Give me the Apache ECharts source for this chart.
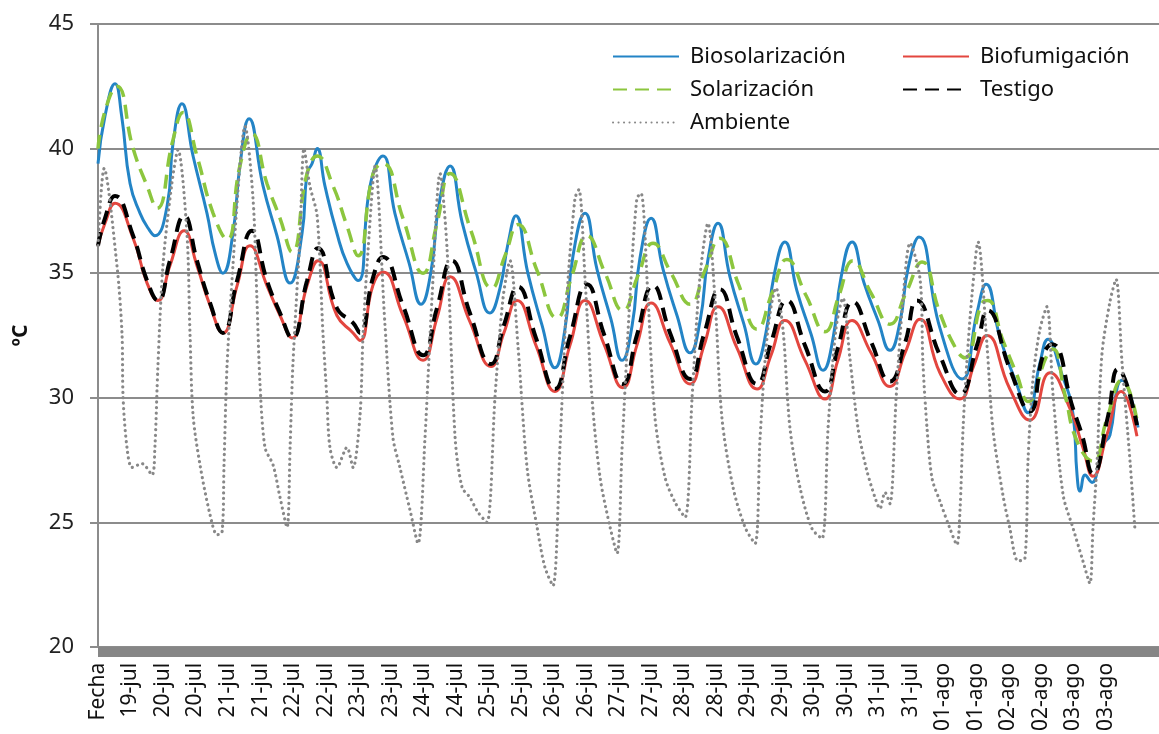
<!DOCTYPE html>
<html>
<head>
<meta charset="utf-8">
<script src="https://cdn.jsdelivr.net/npm/echarts@6.0.0/dist/echarts.min.js"></script>
<style>
  html, body { margin: 0; padding: 0; background: #fff; }
  #chart { width: 1159px; height: 734px; }
</style>
</head>
<body>
<div id="chart"></div>
<script>
// etiquetas del eje X (una cada ~11.7 h)
const xLabels = ['Fecha', '19-jul', '20-jul', '20-jul', '21-jul', '21-jul', '22-jul', '22-jul',
  '23-jul', '23-jul', '24-jul', '24-jul', '25-jul', '25-jul', '26-jul', '26-jul', '27-jul', '27-jul',
  '28-jul', '28-jul', '29-jul', '29-jul', '30-jul', '30-jul', '31-jul', '31-jul',
  '01-ago', '01-ago', '02-ago', '02-ago', '03-ago', '03-ago']
const labelStepH = 11.66
const xMaxH = 380.6

// [horas desde el inicio, ºC]
const biosolarizacion = [
  [0, 39.4], [2.5, 41.3], [6.1, 42.6], [8.5, 41.3], [11.5, 38.6], [15.1, 37.4], [18.0, 36.8], [20.4, 36.5],
  [24.8, 37.7], [26.9, 40.2], [30.1, 41.8], [34.1, 39.7], [39.1, 37.4], [42.0, 35.8], [44.8, 35.0],
  [48.4, 36.6], [50.9, 39.3], [54.2, 41.2], [59.2, 38.5], [64.2, 36.5], [68.9, 34.6], [73.2, 36.6],
  [75.0, 39.0], [76.8, 39.4], [78.6, 40.0], [81.4, 38.5], [85.7, 36.6], [89.3, 35.4], [93.3, 34.7],
  [97.6, 38.5], [102.2, 39.7], [106.5, 37.4], [111.6, 35.4], [115.9, 33.75], [119.5, 35.1], [122.3, 37.75],
  [126.3, 39.3], [130.6, 37.05], [135.6, 35.05], [140.6, 33.4], [144.2, 34.4], [147.1, 36.2], [149.9, 37.3],
  [154.2, 35.0], [159.3, 32.9], [163.9, 31.2], [167.5, 32.75], [170.4, 35.7], [174.7, 37.4],
  [179.0, 35.15], [184.0, 33.15], [188.0, 31.5], [191.6, 32.9], [194.4, 35.6], [198.4, 37.2],
  [202.7, 35.15], [207.7, 33.3], [212.4, 31.8], [216.0, 33.1], [218.8, 35.55], [222.4, 37.0],
  [226.7, 34.85], [231.7, 32.95], [236.0, 31.35], [239.6, 32.6], [242.5, 34.9], [246.4, 36.25],
  [250.7, 34.3], [255.8, 32.55], [260.1, 31.1], [263.7, 32.4], [266.5, 34.8], [270.5, 36.25],
  [274.8, 34.6], [279.8, 33.1], [284.1, 31.9], [287.7, 33.05], [290.6, 35.2], [294.5, 36.45],
  [302.0, 32.8], [310.0, 30.75], [315.3, 33.4], [318.6, 34.55], [323.6, 32.4], [329.7, 30.5],
  [333.6, 29.4], [337.9, 31.4], [340.8, 32.35], [345.1, 31.15], [349.8, 29.3], [351.2, 26.9],
  [352.3, 26.25], [354.1, 26.9], [356.6, 26.6], [358.4, 27.0], [360.5, 28.1], [363.0, 28.5],
  [365.6, 30.4], [367.4, 30.7], [369.5, 30.4], [373.1, 28.8]
]
const biofumigacion = [
  [0, 36.1], [2.5, 37.0], [6.1, 37.8], [12.6, 36.4], [17.6, 34.6], [21.5, 33.9], [25.8, 35.3], [30.9, 36.7],
  [35.5, 35.3], [40.2, 33.7], [44.8, 32.6], [49.9, 34.5], [54.5, 36.1], [60.6, 34.5], [65.3, 33.3],
  [69.6, 32.4], [75.0, 34.5], [78.9, 35.5], [85.7, 33.3], [91.5, 32.6], [94.0, 32.3], [98.6, 34.5],
  [102.2, 35.05], [109.4, 33.3], [116.6, 31.5], [121.6, 33.2], [126.3, 34.85], [133.4, 33.05],
  [141.0, 31.25], [145.6, 32.6], [150.3, 33.9], [157.1, 32.1], [163.9, 30.25], [169.3, 32.1],
  [174.7, 33.9], [181.5, 32.15], [188.3, 30.4], [193.3, 32.1], [198.4, 33.8], [205.2, 32.2],
  [212.4, 30.55], [217.4, 32.1], [222.4, 33.65], [229.2, 32.0], [236.4, 30.35], [241.4, 31.7],
  [246.4, 33.1], [253.6, 31.5], [260.8, 29.95], [265.4, 31.5], [270.5, 33.1], [277.3, 31.8],
  [284.1, 30.45], [289.5, 31.8], [294.9, 33.15], [302.0, 31.0], [309.2, 29.95], [314.2, 31.3],
  [318.9, 32.5], [327.1, 30.35], [334.3, 29.1], [341.5, 31.0], [348.7, 29.55], [353.3, 28.0],
  [356.9, 26.85], [361.9, 28.5], [367.0, 30.25], [372.7, 28.45]
]
const solarizacion = [
  [0, 40.0], [2.5, 41.5], [6.8, 42.5], [12.6, 40.0], [17.6, 38.5], [21.2, 37.6], [26.9, 40.35],
  [30.5, 41.45], [35.5, 39.7], [41.3, 37.4], [46.3, 36.35], [50.9, 39.3], [55.2, 40.6], [60.6, 38.6],
  [65.3, 37.2], [69.6, 35.85], [75.0, 39.0], [78.6, 39.7], [84.3, 38.5], [89.3, 36.9], [93.3, 35.7],
  [98.7, 39.0], [102.2, 39.4], [109.4, 37.2], [116.6, 35.0], [121.6, 37.0], [126.3, 39.0],
  [133.8, 36.7], [141.3, 34.4], [146.0, 35.7], [150.7, 36.95], [157.5, 35.1], [164.6, 33.2],
  [170.0, 34.9], [175.4, 36.5], [181.9, 35.0], [188.3, 33.5], [193.7, 34.9], [199.1, 36.2],
  [205.6, 35.0], [212.4, 33.75], [217.7, 35.1], [223.1, 36.4], [229.6, 34.6], [236.4, 32.75],
  [241.8, 34.2], [247.1, 35.55], [254.0, 34.1], [260.8, 32.65], [265.8, 34.1], [270.8, 35.5],
  [277.3, 34.2], [284.1, 32.95], [289.8, 34.2], [295.6, 35.45], [302.0, 33.4], [308.1, 31.9],
  [311.0, 31.6], [317.5, 33.85], [319.2, 33.9], [324.6, 32.3], [329.7, 30.9], [333.6, 29.85],
  [340.4, 31.7], [342.6, 31.95], [346.9, 30.1], [351.2, 28.25], [356.9, 27.45], [361.9, 29.15],
  [367.3, 30.7], [372.7, 29.1]
]
const testigo = [
  [0, 36.1], [2.5, 37.2], [6.1, 38.1], [12.6, 36.5], [17.6, 34.7], [21.5, 33.9], [25.8, 35.5],
  [30.9, 37.3], [35.5, 35.5], [40.2, 33.8], [44.8, 32.6], [49.9, 34.7], [55.2, 36.7], [60.6, 34.7],
  [65.3, 33.4], [69.6, 32.4], [75.0, 34.7], [78.9, 36.0], [85.7, 33.6], [91.5, 33.0], [94.0, 32.6],
  [98.6, 34.8], [102.2, 35.65], [109.4, 33.7], [116.6, 31.7], [121.6, 33.6], [127.0, 35.5],
  [133.4, 33.4], [141.0, 31.35], [145.6, 32.9], [150.7, 34.45], [157.1, 32.4], [163.9, 30.35],
  [169.3, 32.45], [175.4, 34.55], [181.5, 32.55], [188.3, 30.55], [193.3, 32.5], [199.1, 34.5],
  [205.2, 32.6], [212.4, 30.75], [217.4, 32.55], [223.1, 34.35], [229.2, 32.45], [236.4, 30.55],
  [241.4, 32.2], [247.1, 33.9], [253.6, 32.1], [260.8, 30.25], [265.4, 32.0], [270.8, 33.85],
  [277.3, 32.25], [284.1, 30.65], [289.5, 32.2], [293.8, 33.9], [302.0, 31.7], [309.2, 30.15],
  [315.3, 32.1], [319.2, 33.5], [327.1, 31.15], [334.3, 29.45], [339.0, 31.7], [342.2, 32.15],
  [349.8, 29.55], [353.0, 28.5], [356.9, 26.95], [362.3, 29.25], [365.9, 31.15], [372.7, 28.9]
]
const ambiente = [
  [0, 36.1], [2.2, 39.2], [6.8, 35.3], [8.6, 32.6], [9.0, 30.0], [10.4, 28.0], [12.2, 27.2], [15.8, 27.35],
  [19.4, 26.9], [20.4, 28.0], [21.5, 31.3], [23.3, 35.3], [26.5, 38.6], [28.7, 39.95], [31.9, 36.6],
  [33.0, 32.6], [34.1, 29.3], [36.6, 27.3], [40.2, 25.3], [42.7, 24.5], [44.5, 24.6], [45.2, 27.3],
  [46.3, 31.3], [48.4, 35.3], [50.9, 39.3], [52.7, 40.9], [55.6, 38.0], [57.0, 34.0], [58.1, 30.6],
  [59.9, 28.0], [62.8, 27.3], [65.3, 26.0], [67.8, 24.8], [68.9, 28.0], [69.9, 31.3], [72.5, 36.6],
  [73.9, 40.0], [76.0, 38.5], [78.6, 37.3], [80.7, 32.6], [82.1, 30.0], [83.2, 28.0], [85.7, 27.2],
  [89.3, 28.0], [91.5, 27.2], [94.0, 29.3], [95.1, 32.6], [96.9, 35.95], [99.4, 39.3], [102.9, 33.0],
  [105.8, 28.4], [108.3, 27.2], [111.9, 25.5], [114.8, 24.15], [117.3, 28.4], [119.8, 34.0],
  [122.7, 39.0], [125.2, 36.0], [128.1, 28.4], [130.6, 26.4], [133.4, 26.0], [136.3, 25.4],
  [139.5, 25.0], [142.4, 30.0], [145.3, 34.0], [147.8, 35.5], [150.7, 32.0], [153.9, 27.2],
  [157.5, 24.8], [160.3, 23.2], [163.2, 22.45], [165.7, 28.0], [168.2, 34.0], [171.1, 38.0],
  [172.5, 38.35], [174.7, 34.8], [177.2, 30.0], [180.1, 26.8], [183.7, 24.8], [186.2, 23.75],
  [188.0, 28.0], [190.8, 34.0], [193.3, 38.0], [194.8, 38.2], [197.3, 34.0], [199.8, 29.2],
  [203.4, 26.8], [207.0, 25.8], [210.6, 25.2], [213.1, 30.0], [215.9, 34.8], [218.8, 37.0],
  [221.3, 34.0], [223.8, 29.2], [227.8, 26.4], [232.1, 24.8], [235.7, 24.15], [237.5, 28.4],
  [240.3, 32.75], [243.2, 34.4], [245.7, 32.75], [248.2, 28.8], [251.8, 26.4], [256.1, 24.75],
  [259.7, 24.35], [261.9, 28.8], [264.7, 32.75], [267.2, 34.0], [269.7, 31.6], [272.6, 28.8],
  [275.5, 27.2], [278.7, 26.0], [280.5, 25.55], [282.3, 26.2], [284.1, 25.75], [286.3, 30.0],
  [288.8, 34.0], [291.3, 36.2], [294.9, 34.75], [295.9, 31.45], [297.4, 28.75], [299.2, 26.75],
  [302.0, 25.85], [305.6, 24.75], [308.1, 24.1], [309.2, 25.45], [310.3, 28.75], [311.7, 31.45],
  [313.5, 34.1], [315.7, 36.25], [318.9, 32.1], [321.0, 28.75], [324.6, 26.1], [327.1, 24.75],
  [330.0, 23.45], [332.5, 23.55], [333.6, 27.45], [335.4, 30.75], [337.9, 32.75], [340.4, 33.65],
  [342.6, 30.1], [346.2, 26.1], [349.8, 24.75], [353.3, 23.45], [355.8, 22.55], [356.9, 24.75],
  [358.4, 27.45], [360.1, 31.7], [363.0, 33.85], [365.2, 34.75], [367.3, 31.45], [370.2, 27.45],
  [372.0, 24.65]
]

const FONT = '"Noto Sans", "DejaVu Sans", sans-serif'
const chart = echarts.init(document.getElementById('chart'))

// serie de línea sin marcadores
const makeLine = (name, data, color, width, type, smooth, cap) => ({
  name: name,
  type: 'line',
  data: data,
  symbol: 'none',
  smooth: smooth,
  lineStyle: { color: color, width: width, type: type, cap: cap || 'butt' },
  itemStyle: { color: color },
})

const legendCommon = {
  orient: 'vertical',
  top: 44,
  padding: 0,
  itemWidth: 66,
  itemHeight: 12,
  itemGap: 8,
  selectedMode: false,
  itemStyle: { opacity: 0 },
  textStyle: { fontSize: 22, color: '#111', fontFamily: FONT, lineHeight: 25, padding: [0, 0, 0, 6] },
}

const option = {
  animation: false,
  backgroundColor: '#fff',
  grid: { left: 98, right: 0, top: 24, bottom: 85, containLabel: false },
  legend: [
    Object.assign({ left: 612, data: ['Biosolarización', 'Solarización', 'Ambiente'] }, legendCommon),
    Object.assign({ left: 902, data: ['Biofumigación', 'Testigo'] }, legendCommon),
  ],
  xAxis: {
    type: 'value',
    min: 0,
    max: xMaxH,
    interval: labelStepH,
    offset: 5,
    axisLine: { show: true, onZero: false, lineStyle: { color: '#868686', width: 10, type: 'solid', cap: 'butt' } },
    axisTick: { show: false },
    minorTick: { show: false },
    splitLine: { show: false },
    axisLabel: {
      rotate: 90,
      margin: 11,
      fontSize: 21,
      color: '#111',
      fontFamily: FONT,
      showMaxLabel: false,
      formatter: (v) => {
        const i = Math.round(v / labelStepH)
        return Math.abs(v - i * labelStepH) < 0.5 ? (xLabels[i] || '') : ''
      },
    },
  },
  yAxis: {
    type: 'value',
    min: 20,
    max: 45,
    interval: 5,
    name: 'ºC',
    nameLocation: 'middle',
    nameGap: 66,
    nameRotate: 90,
    nameTextStyle: { fontSize: 21, fontWeight: 'bold', color: '#111', fontFamily: FONT },
    axisLine: { show: true, lineStyle: { color: '#8c8c8c', width: 2 } },
    axisTick: { show: true, length: 8, lineStyle: { color: '#8c8c8c', width: 2 } },
    axisLabel: { margin: 24, fontSize: 22, color: '#222', fontFamily: FONT },
    splitLine: { show: true, lineStyle: { color: '#8c8c8c', width: 2 } },
  },
  series: [
    makeLine('Biosolarización', biosolarizacion, '#2384c6', 3, 'solid', 0.5),
    makeLine('Biofumigación', biofumigacion, '#e3463f', 3, 'solid', 0.5),
    makeLine('Solarización', solarizacion, '#8cc63e', 3.5, [14, 8], 0.5),
    makeLine('Testigo', testigo, '#000000', 4, [14, 8], 0.5),
    makeLine('Ambiente', ambiente, '#888888', 3.2, [0.1, 5.4], 0.3, 'round'),
  ],
}

chart.setOption(option)
</script>
</body>
</html>
